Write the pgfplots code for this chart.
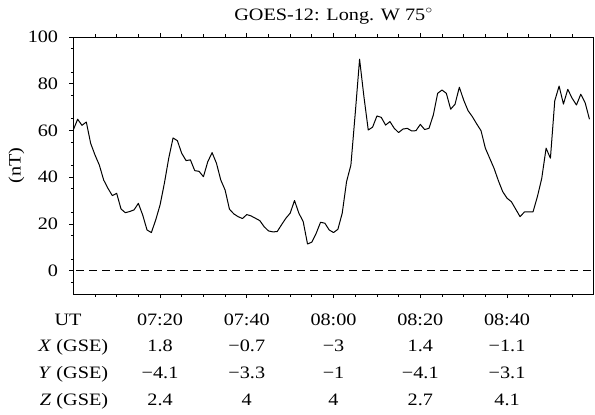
\documentclass[border=0pt]{standalone}
\usepackage{fontspec}
\setmainfont{Liberation Serif}
\usepackage{graphicx}
\usepackage{pgfplots}
\pgfplotsset{compat=1.18}
\newcommand{\sx}[1]{\scalebox{1.16}[1]{#1}}
\newcommand{\col}[4]{\sx{\begin{tabular}{@{}c@{}}#1\\#2\\#3\\#4\end{tabular}}}
\pgfplotstableread{
t v
0 60.2
1 64.8
2 62.2
3 63.6
4 54.5
5 49.5
6 45.2
7 38.8
8 35.2
9 32.1
10 33.1
11 26.4
12 24.8
13 25.3
14 26.0
15 28.8
16 23.8
17 17.4
18 16.3
19 21.7
20 28.1
21 37.4
22 48.1
23 56.8
24 55.6
25 50.2
26 47.1
27 47.4
28 42.8
29 42.5
30 40.2
31 46.6
32 50.5
33 46.0
34 38.8
35 34.5
36 26.3
37 24.3
38 23.1
39 22.3
40 24.0
41 23.4
42 22.4
43 21.4
44 18.8
45 17.0
46 16.6
47 16.7
48 19.6
49 22.4
50 24.6
51 30.0
52 24.6
53 21.0
54 11.4
55 12.2
56 16.0
57 20.7
58 20.3
59 17.4
60 16.3
61 17.7
62 24.6
63 38.1
64 45.2
65 67.3
66 90.5
67 74.5
68 60.2
69 61.4
70 66.2
71 65.6
72 62.3
73 63.8
74 60.9
75 59.1
76 60.6
77 60.9
78 59.8
79 59.9
80 62.6
81 60.4
82 60.9
83 66.6
84 75.9
85 77.3
86 75.9
87 69.1
88 71.2
89 78.5
90 73.0
91 68.5
92 65.9
93 62.8
94 59.9
95 52.4
96 48.1
97 43.8
98 38.5
99 33.8
100 31.0
101 29.5
102 26.3
103 23.1
104 25.1
105 25.1
106 25.2
107 31.7
108 39.5
109 52.4
110 48.1
111 72.7
112 79.0
113 71.3
114 77.6
115 73.8
116 70.9
117 75.5
118 71.9
119 64.8
}\goes
\begin{document}
\fontsize{17.5}{26.7}\selectfont
\begin{tikzpicture}
\path[use as bounding box] (-73.3bp,-121bp) rectangle (521.7bp,294bp);
\begin{axis}[
  scale only axis, width=520.5bp, height=257bp,
  at={(0,0)}, anchor=south west,
  xmin=0, xmax=120, ymin=-10, ymax=100,
  axis line style={line width=0.9bp},
  every tick/.style={black, line width=0.8bp},
  tick align=outside,
  ytick pos=left,
  major tick length=4bp, minor tick length=2.5bp,
  xtick={20,40,60,80,100},
  minor xtick={5,10,15,25,30,35,45,50,55,65,70,75,85,90,95,105,110,115},
  ytick={0,20,40,60,80,100},
  minor ytick={-5,5,15,25,35,45,55,65,75,85,95},
  /pgf/number format/assume math mode=true,
  tick label style={font=\fontsize{17.5}{26.7}\selectfont},
  yticklabel={\sx{\pgfmathprintnumber{\tick}}},
  yticklabel style={inner sep=0pt, xshift=-11bp},
  xticklabel style={anchor=north, inner sep=0pt, yshift=-8.5bp},
  xticklabels={{\col{07:20}{1.8}{−4.1}{2.4}},{\col{07:40}{−0.7}{−3.3}{4}},{\col{08:00}{−3}{−1}{4}},{\col{08:20}{1.4}{−4.1}{2.7}},{\col{08:40}{−1.1}{−3.1}{4.1}}},
  title={\sx{GOES-12: Long. W 75$^{\circ}$}},
  title style={at={(0.5,1)}, anchor=base, inner sep=0pt, yshift=11bp, font=\fontsize{17.5}{21}\selectfont},
  ylabel={\sx{(nT)}},
  ylabel style={at={(0,0.5)}, anchor=center, yshift=56.8bp, inner sep=0pt, font=\fontsize{17.5}{21}\selectfont},
]
\addplot[black, line width=0.9bp, dash pattern=on 7.5bp off 5.5bp, dash phase=-3bp] coordinates {(0,0) (120,0)};
\addplot[black, line width=1bp, line join=round] table[x=t, y=v] {\goes};
\end{axis}
\node[anchor=north, inner sep=0pt] at (-5.3bp,-12.5bp) {\sx{\begin{tabular}{@{}c@{}}UT\end{tabular}}};
\node[anchor=north east, inner sep=0pt] at (35bp,-12.5bp) {\sx{\begin{tabular}{@{}r@{}}\\\textit{X} (GSE)\\\textit{Y} (GSE)\\\textit{Z} (GSE)\end{tabular}}};
\end{tikzpicture}
\end{document}
